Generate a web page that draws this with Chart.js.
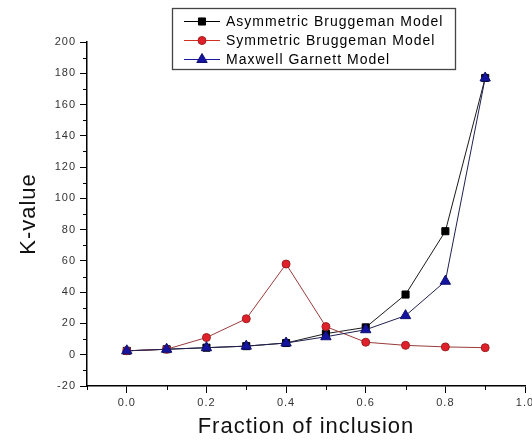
<!DOCTYPE html>
<html>
<head>
<meta charset="utf-8">
<script src="https://cdn.jsdelivr.net/npm/chart.js@4/dist/chart.umd.min.js"></script>
<style>
  html, body { margin: 0; padding: 0; background: #ffffff; }
  #wrap { width: 532px; height: 441px; }
</style>
</head>
<body>
<div id="wrap"><canvas id="kChart" width="532" height="441"></canvas></div>
<script>
// --- Data ---
const fractions = [0.0, 0.1, 0.2, 0.3, 0.4, 0.5, 0.6, 0.7, 0.8, 0.9];
const asymBruggeman = [2.5, 3.5, 4.5, 5.5, 7.5, 13.5, 17.5, 38.5, 79, 177];
const symBruggeman = [2.5, 3.5, 11, 23, 58, 18, 8, 6, 5, 4.5];
const maxwellGarnett = [2.5, 3.5, 4.5, 5.5, 7.5, 11.5, 16, 25, 47, 177];

const seriesNames = ['Asymmetric Bruggeman Model', 'Symmetric Bruggeman Model', 'Maxwell Garnett Model'];
const xTickValues = [0.0, 0.2, 0.4, 0.6, 0.8, 1.0];
const xMinorValues = [-0.1, 0.1, 0.3, 0.5, 0.7, 0.9];
const yMinorValues = [-10, 10, 30, 50, 70, 90, 110, 130, 150, 170, 190];

const FONT = "'Liberation Sans', Arial, sans-serif";

const toXY = (vals) => fractions.map((f, i) => ({ x: f, y: vals[i] }));

// Origin-ish wide text spacing + minor ticks + boxed legend
const originDecor = {
    id: 'originDecor',
    beforeDraw(chart) {
        chart.ctx.letterSpacing = '1px';
    },
    afterDraw(chart) {
        const ctx = chart.ctx;
        const xs = chart.scales.x, ys = chart.scales.y;
        const area = chart.chartArea;
        ctx.save();
        ctx.strokeStyle = '#000';
        ctx.lineWidth = 1;
        ctx.beginPath();
        xMinorValues.forEach(v => {
            const px = Math.round(xs.getPixelForValue(v)) + 0.5;
            ctx.moveTo(px, area.bottom);
            ctx.lineTo(px, area.bottom + 4);
        });
        yMinorValues.forEach(v => {
            const py = Math.round(ys.getPixelForValue(v)) + 0.5;
            ctx.moveTo(area.left, py);
            ctx.lineTo(area.left - 4, py);
        });
        ctx.stroke();

        // legend
        const bx = 172.5, by = 8.5, bw = 283, bh = 61;
        ctx.fillStyle = '#fff';
        ctx.fillRect(bx, by, bw, bh);
        ctx.strokeStyle = '#444';
        ctx.lineWidth = 1.3;
        ctx.strokeRect(bx, by, bw, bh);
        ctx.font = '14px ' + FONT;
        ctx.letterSpacing = '1px';
        ctx.textBaseline = 'middle';
        chart.data.datasets.forEach((ds, i) => {
            const cy = 21 + i * 19;
            ctx.strokeStyle = ds.legendLine;
            ctx.lineWidth = 1;
            ctx.beginPath();
            ctx.moveTo(184, cy + 0.5);
            ctx.lineTo(220, cy + 0.5);
            ctx.stroke();
            ctx.fillStyle = ds.pointBackgroundColor;
            ctx.strokeStyle = ds.pointBorderColor;
            Chart.helpers.drawPoint(ctx, {
                pointStyle: ds.pointStyle,
                radius: ds.pointRadius,
                borderWidth: 1
            }, 202, cy + 0.5);
            ctx.fillStyle = '#000';
            ctx.fillText(seriesNames[i], 226, cy + 1);
        });
        ctx.restore();
    }
};

const ctx = document.getElementById('kChart').getContext('2d');
const chart = new Chart(ctx, {
    type: 'line',
    data: {
        datasets: [
            {
                label: seriesNames[0],
                data: toXY(asymBruggeman),
                borderColor: '#1a1a1a',
                legendLine: '#000',
                backgroundColor: '#000',
                pointBackgroundColor: '#000',
                pointBorderColor: '#000',
                pointStyle: 'rect',
                pointRadius: 5,
                borderWidth: 1,
                order: 2
            },
            {
                label: seriesNames[1],
                data: toXY(symBruggeman),
                borderColor: '#9a3a3a',
                legendLine: '#d03020',
                backgroundColor: '#e0202a',
                pointBackgroundColor: '#e0202a',
                pointBorderColor: '#a02020',
                pointStyle: 'circle',
                pointRadius: 4,
                borderWidth: 1,
                order: 1
            },
            {
                label: seriesNames[2],
                data: toXY(maxwellGarnett),
                borderColor: '#202050',
                legendLine: '#1a1aa0',
                backgroundColor: '#1414a0',
                pointBackgroundColor: '#1414a0',
                pointBorderColor: '#101070',
                pointStyle: 'triangle',
                pointRadius: 6,
                borderWidth: 1,
                order: 0
            }
        ]
    },
    options: {
        responsive: false,
        animation: false,
        events: [],
        layout: { padding: { top: 42, right: 5, left: 0, bottom: 0 } },
        plugins: {
            legend: { display: false },
            tooltip: { enabled: false }
        },
        elements: { line: { tension: 0 } },
        scales: {
            x: {
                type: 'linear',
                min: -0.1,
                max: 1.0,
                afterBuildTicks: (scale) => {
                    scale.ticks = xTickValues.map(v => ({ value: v }));
                },
                afterFit: (scale) => {
                    scale.height = 55;
                    scale.paddingLeft = 0;
                    scale.paddingRight = 0;
                },
                border: { display: true, color: '#000', width: 1.5 },
                grid: { drawOnChartArea: false, drawTicks: true, tickLength: 7, tickColor: '#000' },
                ticks: {
                    color: '#333',
                    font: { family: FONT, size: 11 },
                    padding: 3,
                    maxRotation: 0,
                    autoSkip: false,
                    callback: (v) => Number(v).toFixed(1)
                },
                title: {
                    display: true,
                    text: 'Fraction of inclusion',
                    color: '#111',
                    font: { family: FONT, size: 22 },
                    padding: { top: 0, bottom: 1 }
                }
            },
            y: {
                min: -20,
                max: 200,
                afterFit: (scale) => {
                    scale.width = 87;
                },
                border: { display: true, color: '#000', width: 1.5 },
                grid: { drawOnChartArea: false, drawTicks: true, tickLength: 7, tickColor: '#000' },
                ticks: {
                    stepSize: 20,
                    color: '#333',
                    font: { family: FONT, size: 11 },
                    padding: 4
                },
                title: {
                    display: true,
                    text: 'K-value',
                    color: '#111',
                    font: { family: FONT, size: 22 },
                    padding: { top: 16, bottom: 0 }
                }
            }
        }
    },
    plugins: [originDecor]
});
</script>
</body>
</html>
